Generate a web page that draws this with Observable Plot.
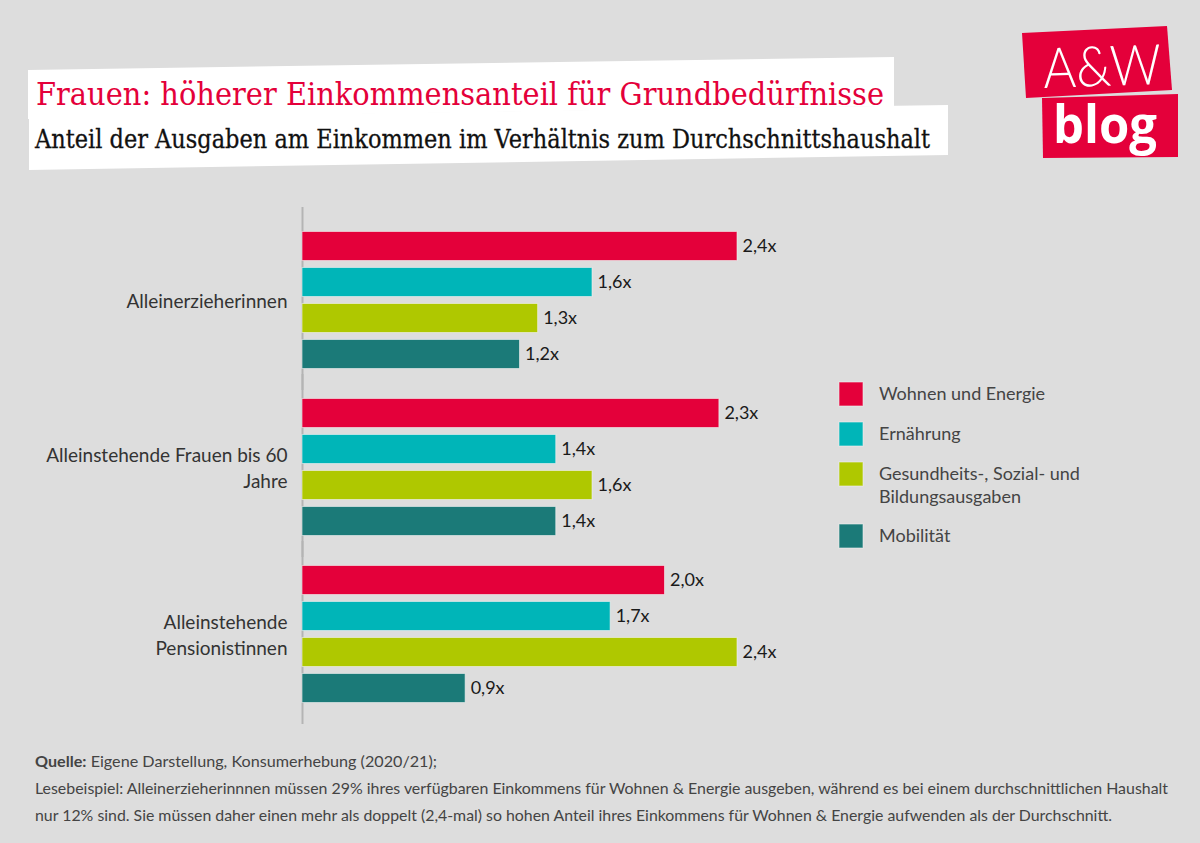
<!DOCTYPE html>
<html>
<head>
<meta charset="utf-8">
<script src="https://cdn.jsdelivr.net/npm/d3@7"></script>
<script src="https://cdn.jsdelivr.net/npm/@observablehq/plot@0.6"></script>
<style>
  html, body { margin: 0; padding: 0; background: #dddddd; }
  #page { position: relative; width: 1200px; height: 843px; overflow: hidden; background: #dddddd; font-family: Lato, "Noto Sans", sans-serif; }
  #chart { position: absolute; left: 0; top: 190px; }
  #overlay { position: absolute; left: 0; top: 0; }
</style>
</head>
<body>
<div id="page">
  <div id="chart"></div>
</div>
<script>
// ---- data ----
const titleText = "Frauen: höherer Einkommensanteil für Grundbedürfnisse";
const subtitleText = "Anteil der Ausgaben am Einkommen im Verhältnis zum Durchschnittshaushalt";
const groups = ["Alleinerzieherinnen", "Alleinstehende Frauen bis 60 Jahre", "Alleinstehende Pensionistinnen"];
const groupLabels = ["Alleinerzieherinnen", "Alleinstehende Frauen bis 60\nJahre", "Alleinstehende\nPensionistinnen"];
const categories = ["Wohnen und Energie", "Ernährung", "Gesundheits-, Sozial- und Bildungsausgaben", "Mobilität"];
const legendLines = [["Wohnen und Energie"], ["Ernährung"], ["Gesundheits-, Sozial- und", "Bildungsausgaben"], ["Mobilität"]];
const colors = ["#e4003a", "#00b5b8", "#afc800", "#1b7a78"];
const wohnen = [2.4, 2.3, 2.0];
const ernaehrung = [1.6, 1.4, 1.7];
const gesundheit = [1.3, 1.6, 2.4];
const mobilitaet = [1.2, 1.4, 0.9];
const series = [wohnen, ernaehrung, gesundheit, mobilitaet];
const sourceBold = "Quelle:";
const sourceRest = " Eigene Darstellung, Konsumerhebung (2020/21);";
const noteLine1 = "Lesebeispiel: Alleinerzieherinnnen müssen 29% ihres verfügbaren Einkommens für Wohnen & Energie ausgeben, während es bei einem durchschnittlichen Haushalt";
const noteLine2 = "nur 12% sind. Sie müssen daher einen mehr als doppelt (2,4-mal) so hohen Anteil ihres Einkommens für Wohnen & Energie aufwenden als der Durchschnitt.";

// ---- table ----
const data = [];
groups.forEach((g, i) => categories.forEach((c, j) => data.push({group: g, category: c, value: series[j][i]})));
const labelOf = new Map(groups.map((g, i) => [g, groupLabels[i]]));
const fmt = v => v.toFixed(1).replace(".", ",") + "x";

// ---- chart ----
const chart = Plot.plot({
  width: 1200,
  height: 550,
  marginLeft: 302,
  marginRight: 354.25,
  marginTop: 25.5,
  marginBottom: 23.5,
  style: {background: "transparent", fontFamily: "Lato, 'Noto Sans', sans-serif", fontSize: "18px"},
  x: {domain: [0, 3], axis: null},
  y: {domain: categories, axis: null, paddingInner: 0.2018, paddingOuter: 0.3995},
  fy: {domain: groups, padding: 0, label: null},
  color: {domain: categories, range: colors},
  marks: [
    Plot.ruleX(groups, {x: 0, fy: d => d, stroke: "#b4b4b4", strokeWidth: 2, insetTop: -9, insetBottom: -7}),
    Plot.barX(data, {x: "value", y: "category", fy: "group", fill: "category", stroke: "#f2f2f2", strokeOpacity: 0.6, strokeWidth: 1}),
    Plot.text(data, {x: "value", y: "category", fy: "group", text: d => fmt(d.value), textAnchor: "start", dx: 5, fill: "#1a1a1a", fontSize: 18}),
    Plot.axisFy({anchor: "left", tickSize: 0, tickPadding: 15, label: null, fontSize: 19, fill: "#333", lineHeight: 1.37, tickFormat: d => labelOf.get(d)})
  ]
});
document.getElementById("chart").appendChild(chart);

// ---- overlay: header, logo, legend, caption ----
const svg = d3.select("#page").append("svg")
  .attr("id", "overlay").attr("width", 1200).attr("height", 843);

const poly = pts => pts.map(p => p.join(",")).join(" ");
svg.append("polygon").attr("points", poly([[28,70],[894,57],[894,106],[28,119]])).attr("fill", "#fff");
svg.append("polygon").attr("points", poly([[29,118],[948,105],[948,155],[29,170]])).attr("fill", "#fff");
svg.append("text").attr("x", 36).attr("y", 105).attr("textLength", 848).attr("lengthAdjust", "spacingAndGlyphs")
  .attr("font-family", "'DejaVu Serif', serif").attr("font-size", 31).attr("fill", "#e4003a").text(titleText);
svg.append("text").attr("x", 35).attr("y", 148).attr("textLength", 895).attr("lengthAdjust", "spacingAndGlyphs")
  .attr("font-family", "'DejaVu Serif', serif").attr("font-size", 26).attr("fill", "#111")
  .attr("stroke", "#111").attr("stroke-width", 0.3).text(subtitleText);

// logo
svg.append("polygon").attr("points", poly([[1042,98],[1178,94],[1178,157],[1043,158]])).attr("fill", "#e4003a");
svg.append("polygon").attr("points", poly([[1022,33],[1167,26],[1172,90],[1026,98]])).attr("fill", "#e4003a");
svg.append("text").attr("x", 1043).attr("y", 86).attr("textLength", 118).attr("lengthAdjust", "spacingAndGlyphs")
  .attr("transform", "rotate(-2 1100 65)")
  .attr("font-family", "Lato, sans-serif").attr("font-weight", 300).attr("font-size", 56).attr("fill", "#fff").text("A&W");
svg.append("text").attr("x", 1053).attr("y", 143).attr("textLength", 104).attr("lengthAdjust", "spacingAndGlyphs")
  .attr("font-family", "'Open Sans', sans-serif").attr("font-weight", 700).attr("font-size", 52).attr("fill", "#fff").text("blog");

// legend
let ly = 382;
legendLines.forEach((lines, i) => {
  svg.append("rect").attr("x", 839).attr("y", ly).attr("width", 24).attr("height", 24)
    .attr("fill", colors[i]).attr("stroke", "#f2f2f2").attr("stroke-opacity", 0.6);
  lines.forEach((t, k) => {
    svg.append("text").attr("x", 879).attr("y", ly + 18 + k * 23)
      .attr("font-family", "Lato, sans-serif").attr("font-size", 18).attr("fill", "#444").text(t);
  });
  ly += 40 + (lines.length - 1) * 22;
});

// caption
const cap1 = svg.append("text").attr("x", 35).attr("y", 767).attr("textLength", 402).attr("lengthAdjust", "spacingAndGlyphs")
  .attr("font-family", "Lato, sans-serif").attr("font-size", 16).attr("fill", "#444");
cap1.append("tspan").attr("font-weight", 700).text(sourceBold);
cap1.append("tspan").text(sourceRest);
svg.append("text").attr("x", 35).attr("y", 794).attr("textLength", 1133).attr("lengthAdjust", "spacingAndGlyphs")
  .attr("font-family", "Lato, sans-serif").attr("font-size", 16).attr("fill", "#444").text(noteLine1);
svg.append("text").attr("x", 35).attr("y", 821).attr("textLength", 1077).attr("lengthAdjust", "spacingAndGlyphs")
  .attr("font-family", "Lato, sans-serif").attr("font-size", 16).attr("fill", "#444").text(noteLine2);
</script>
</body>
</html>
